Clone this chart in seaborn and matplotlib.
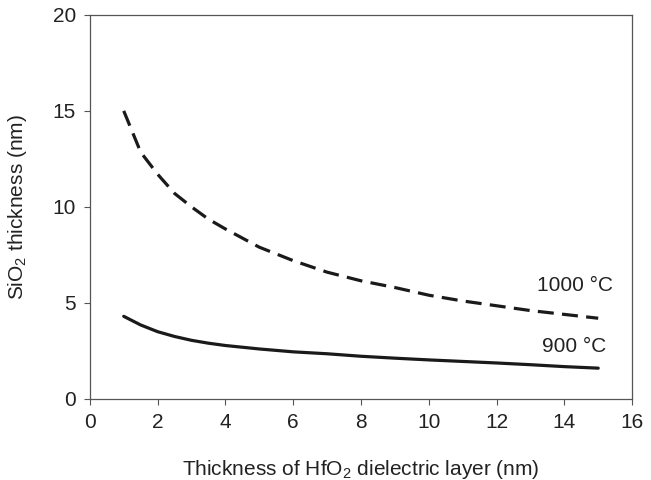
import numpy as np
import pandas as pd
import seaborn as sns
import matplotlib
matplotlib.use("Agg")
import matplotlib.pyplot as plt

# Datos
hfo2_nm = [1, 1.5, 2, 2.5, 3, 3.5, 4, 5, 6, 7, 8, 9, 10, 11, 12, 13, 14, 15]
sio2_1000 = [15.0, 12.85, 11.7, 10.7, 10.0, 9.36, 8.85, 7.9, 7.2, 6.6, 6.15, 5.8,
             5.4, 5.1, 4.85, 4.6, 4.4, 4.2]
sio2_900 = [4.3, 3.85, 3.5, 3.25, 3.05, 2.9, 2.78, 2.6, 2.45, 2.35, 2.22, 2.12,
            2.03, 1.95, 1.87, 1.78, 1.68, 1.6]

df = pd.DataFrame({
    "x": hfo2_nm * 2,
    "y": sio2_1000 + sio2_900,
    "temp": ["1000 °C"] * len(hfo2_nm) + ["900 °C"] * len(hfo2_nm),
})

sns.set_style("ticks")
plt.rcParams["font.family"] = ["Liberation Sans", "DejaVu Sans"]
plt.rcParams["mathtext.fontset"] = "custom"
plt.rcParams["mathtext.rm"] = "Liberation Sans"
plt.rcParams["mathtext.it"] = "Liberation Sans"

fig = plt.figure(figsize=(6.51, 4.8), dpi=100)
ax = fig.add_axes([0.138, 0.169, 0.833, 0.80])

sns.lineplot(data=df, x="x", y="y", style="temp", color="#1a1a1a",
             dashes={"1000 °C": (5, 2.6), "900 °C": ""}, linewidth=2.3,
             legend=False, ax=ax)

ax.set_xlim(0, 16)
ax.set_ylim(0, 20)
ax.set_xticks(range(0, 17, 2))
ax.set_yticks(range(0, 21, 5))
ax.tick_params(direction="out", length=4, width=0.8, color="#555555",
               labelsize=15, pad=6, labelcolor="#222222")
for sp in ax.spines.values():
    sp.set_color("#555555")
    sp.set_linewidth(0.9)

ax.set_xlabel("Thickness of HfO$_2$ dielectric layer (nm)", fontsize=15,
              labelpad=19, color="#222222")
ax.set_ylabel("SiO$_2$ thickness (nm)", fontsize=15, labelpad=17, color="#222222")

ax.text(15.45, 5.9, "1000 °C", ha="right", va="center", fontsize=15, color="#222222")
ax.text(15.25, 2.75, "900 °C", ha="right", va="center", fontsize=15, color="#222222")

fig.savefig("out.png", dpi=100)
